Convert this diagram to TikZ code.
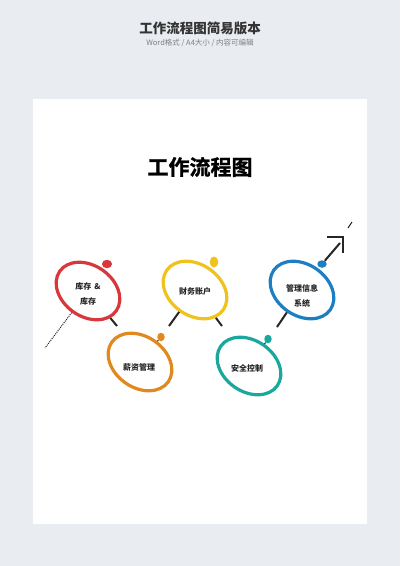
\documentclass[tikz,border=0pt]{standalone}
\usepackage{fontspec}
\setmainfont{Noto Sans CJK SC}
\newfontfamily\heavyfont[FakeBold=1.2]{Noto Sans CJK SC Bold}
\usetikzlibrary{shapes.geometric}
\definecolor{bg}{HTML}{E9ECF1}
\definecolor{cred}{HTML}{D8383B}
\definecolor{cyel}{HTML}{F0C21C}
\definecolor{cblu}{HTML}{1E7EC2}
\definecolor{cora}{HTML}{E0891F}
\definecolor{ctea}{HTML}{19A89B}

\begin{document}
\begin{tikzpicture}[x=1pt, y=-1pt,
	ring/.style={draw, ellipse, line width=3.2pt, minimum width=69pt, minimum height=51pt, inner sep=0pt, rotate=-35},
	dot/.style={ellipse, inner sep=0pt, minimum width=8.5pt, minimum height=8.5pt},
	lbl/.style={font=\bfseries\fontsize{8}{15}\selectfont, align=center, text=black!85},
	leg/.style={line width=2pt, black!85}]
	\fill[bg] (0,0) rectangle (400,566);
	\fill[white] (33,99) rectangle (367,524);

	\node[font=\bfseries\fontsize{13.5}{16}\selectfont, text=black!80]	(head)	at (200,28)	{工作流程图简易版本};
	\node[font=\fontsize{7.5}{9}\selectfont, text=black!50]				(sub)	at (200,43)	{Word格式 / A4大小 / 内容可编辑};
	\node[font=\heavyfont\fontsize{21}{24}\selectfont]					(title)	at (200,167)	{工作流程图};

	\node[ring, draw=cred]	(stock)	at (88,291)		{};
	\node[ring, draw=cyel]	(fin)	at (195,290)	{};
	\node[ring, draw=cblu]	(mis)	at (302,290)	{};
	\node[ring, draw=cora]	(pay)	at (140,362)	{};
	\node[ring, draw=ctea]	(sec)	at (249,366)	{};

	\node[lbl]	(stockt)	at (88,294)		{库存 \,\&\\库存};
	\node[lbl]	(fint)		at (195,291)	{财务账户};
	\node[lbl]	(mist)		at (302,296)	{管理信息\\系统};
	\node[lbl]	(payt)		at (139,367)	{薪资管理};
	\node[lbl]	(sect)		at (247,368)	{安全控制};

	\node[dot, fill=cred, minimum width=10pt]		(stockd)	at (107,264)	{};
	\node[dot, fill=cyel, minimum height=11pt]		(find)		at (214,262)	{};
	\node[dot, fill=cblu, minimum width=9.5pt, minimum height=7.5pt]	(misd)	at (322,264)	{};
	\node[dot, fill=cora, minimum width=7.5pt]		(payd)		at (161,337)	{};
	\node[dot, fill=ctea, minimum width=7.5pt]		(secd)		at (268,339)	{};

	\coordinate	(s1)	at (45,348);
	\coordinate	(s2)	at (117,326);
	\coordinate	(f1)	at (169,326);
	\coordinate	(f2)	at (222,326);
	\coordinate	(m1)	at (277,327);
	\coordinate	(m2)	at (340,243);
	\coordinate	(k0)	at (327,237);
	\coordinate	(k1)	at (343,237);
	\coordinate	(k2)	at (343,253);
	\coordinate	(k3)	at (348,228);
	\coordinate	(k4)	at (352,222);

	\path[leg]
	(stock)	edge[line width=1pt, dash pattern=on 1pt off 1pt]	(s1)
			edge	(s2)
	(fin)	edge	(f1)
			edge	(f2)
	(mis)	edge	(m1)
	(misd)	edge	(m2)
	(payd)	edge[line width=1pt]	(pay)
	(secd)	edge[line width=1pt]	(sec);
	\draw[leg, line width=2.5pt] (k0) -- (k1) -- (k2);
	\draw[leg, line width=1pt] (k3) -- (k4);
\end{tikzpicture}
\end{document}
